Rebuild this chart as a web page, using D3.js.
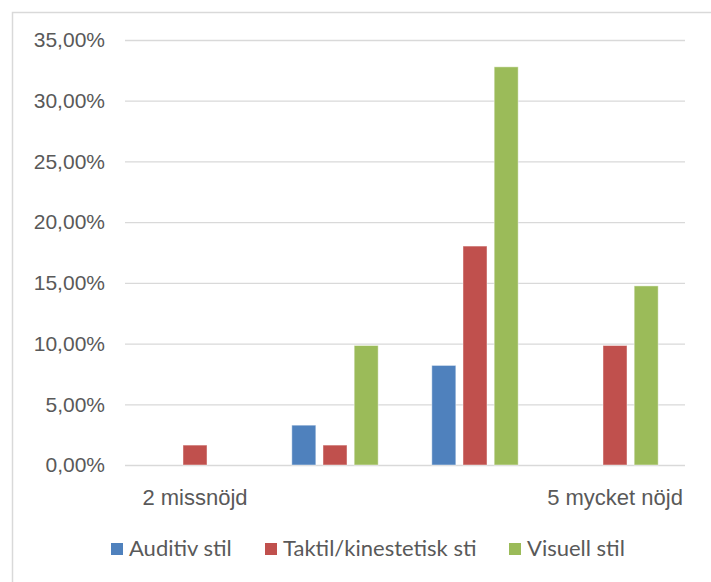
<!DOCTYPE html>
<html>
<head>
<meta charset="utf-8">
<script src="https://cdnjs.cloudflare.com/ajax/libs/d3/7.8.5/d3.min.js"></script>
<style>
  body { margin: 0; background: #fff; }
  svg { display: block; font-family: Lato, "Open Sans", sans-serif; }
</style>
</head>
<body>
<svg width="711" height="582"></svg>
<script>
var categories = ['2', '3', '4', '5'];
var tickLabels = ['2 missnöjd', '', '', '5 mycket nöjd'];
var seriesNames = ['Auditiv stil', 'Taktil/kinestetisk sti', 'Visuell stil'];
var auditiv = [0, 0.0328, 0.0820, 0];
var taktil = [0.0164, 0.0164, 0.1803, 0.0984];
var visuell = [0, 0.0984, 0.3279, 0.1475];
var yTicks = [0, 0.05, 0.10, 0.15, 0.20, 0.25, 0.30, 0.35];
var colors = ['#4F81BD', '#C0504D', '#9BBB59'];

var series = [auditiv, taktil, visuell];

var svg = d3.select('svg');

// chart frame (cut off by the picture on right and bottom)
svg.append('rect')
  .attr('x', 12.5).attr('y', 12.5)
  .attr('width', 720).attr('height', 600)
  .attr('fill', '#fff')
  .attr('stroke', '#d9d9d9')
  .attr('stroke-width', 1.5);

var x0 = d3.scaleBand().domain(categories).range([125, 685]).padding(0);
var x1 = d3.scaleBand().domain(d3.range(3))
  .range([0, x0.bandwidth()])
  .paddingInner(0.23)
  .paddingOuter(0.86);
var y = d3.scaleLinear().domain([0, 0.35]).range([465, 40]);

var fmt = function(v) { return d3.format('.2f')(v * 100).replace('.', ',') + '%'; };

// gridlines
var yAxis = d3.axisLeft(y).tickValues(yTicks).tickSize(-(685 - 125)).tickFormat(fmt).tickPadding(20);
var gy = svg.append('g')
  .attr('transform', 'translate(125,0)')
  .call(yAxis);
gy.select('.domain').remove();
gy.selectAll('line').attr('stroke', '#d9d9d9').attr('stroke-width', 1.3);
gy.selectAll('text')
  .attr('fill', '#595959')
  .style('font-size', '21px');

// bars
var groups = svg.selectAll('.grp')
  .data(categories).enter()
  .append('g')
  .attr('transform', function(d) { return 'translate(' + x0(d) + ',0)'; });

groups.selectAll('rect')
  .data(function(d, i) { return series.map(function(s, k) { return {k: k, v: s[i]}; }); })
  .enter()
  .filter(function(d) { return d.v > 0; })
  .append('rect')
  .attr('x', function(d) { return x1(d.k); })
  .attr('width', x1.bandwidth())
  .attr('y', function(d) { return y(d.v); })
  .attr('height', function(d) { return y(0) - y(d.v); })
  .attr('fill', function(d) { return colors[d.k]; })
  .attr('stroke', 'rgba(255,255,255,0.45)')
  .attr('stroke-width', 1);

// category axis labels
var xAxis = d3.axisBottom(x0).tickSize(0).tickPadding(24)
  .tickFormat(function(d, i) { return tickLabels[i]; });
var gx = svg.append('g')
  .attr('transform', 'translate(0,465)')
  .call(xAxis);
gx.select('.domain').remove();
gx.selectAll('text')
  .attr('fill', '#595959')
  .style('font-size', '22px');

// legend
var legendX = [111, 265, 509];
var legend = svg.selectAll('.leg')
  .data(seriesNames).enter()
  .append('g')
  .attr('transform', function(d, i) { return 'translate(' + legendX[i] + ',543)'; });
legend.append('rect')
  .attr('width', 12).attr('height', 12)
  .attr('fill', function(d, i) { return colors[i]; });
legend.append('text')
  .attr('x', 18).attr('y', 13)
  .attr('fill', '#595959')
  .style('font-size', '22px')
  .text(function(d) { return d; });
</script>
</body>
</html>
